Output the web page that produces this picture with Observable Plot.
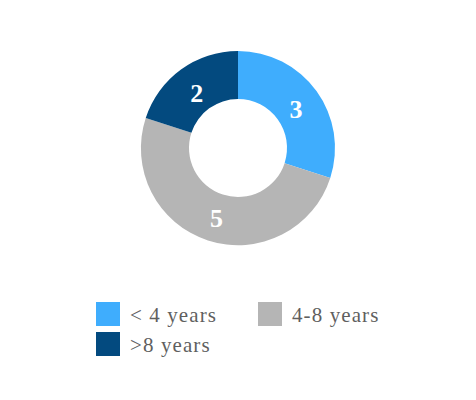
<!DOCTYPE html>
<html><head><meta charset="utf-8">
<style>
body{margin:0;background:#fff;width:476px;height:400px;overflow:hidden;font-family:"Times New Roman",Tinos,"Liberation Serif",serif;}
#chart{height:296px;}
#chart svg{display:block;}
#legend{position:relative;height:104px;}
.item{position:absolute;display:flex;align-items:center;height:24px;}
.sw{width:24px;height:24px;margin-right:10px;flex:none;}
.lab{font-size:21px;color:#5f5f5f;letter-spacing:1.1px;white-space:nowrap;line-height:24px;position:relative;top:1px;}
</style>
<script src="https://cdn.jsdelivr.net/npm/d3@7"></script>
<script src="https://cdn.jsdelivr.net/npm/@observablehq/plot@0.6"></script>
</head><body><div id="chart"></div>
<div id="legend">
  <div class="item" style="left:96px;top:6px"><div class="sw" id="sw0"></div><div class="lab" id="lab0">&lt; 4 years</div></div>
  <div class="item" style="left:258px;top:6px"><div class="sw" id="sw1"></div><div class="lab" id="lab1">4-8 years</div></div>
  <div class="item" style="left:96px;top:36px"><div class="sw" id="sw2"></div><div class="lab" id="lab2">&gt;8 years</div></div>
</div>
<script>
const categories = ["< 4 years", "4-8 years", ">8 years"];
const values = [3, 5, 2];
const colors = ["#3fadfd", "#b5b5b5", "#034a7f"];

const W = 476, H = 296, cx = 238, cy = 148, R = 97, r = 49, rl = 71;
const data = categories.map((c, i) => ({category: c, value: values[i], color: colors[i]}));
const arcs = d3.pie().value(d => d.value).sort(null)(data);
const mid = d => (d.startAngle + d.endAngle) / 2;

const plot = Plot.plot({
  width: W, height: H, margin: 0,
  x: {domain: [-cx, W - cx], axis: null},
  y: {domain: [-(H - cy), cy], axis: null},
  marks: [
    (index, scales) => {
      const x0 = scales.x(0), y0 = scales.y(0);
      const k = scales.x(1) - scales.x(0);
      const arc = d3.arc().innerRadius(r * k).outerRadius(R * k);
      const g = d3.create("svg:g").attr("transform", `translate(${x0},${y0})`);
      g.selectAll("path").data(arcs).join("path")
        .attr("d", arc).attr("fill", d => d.data.color);
      return g.node();
    },
    Plot.text(arcs, {
      x: d => Math.sin(mid(d)) * rl,
      y: d => Math.cos(mid(d)) * rl,
      text: d => String(d.data.value),
      fill: "white", fontSize: 26, fontWeight: "bold", dy: 3,
      fontFamily: "Times New Roman, Tinos, Liberation Serif, serif", textAnchor: "middle", lineAnchor: "middle"
    })
  ]
});
document.getElementById("chart").appendChild(plot);
data.forEach((d, i) => {
  document.getElementById("sw" + i).style.background = d.color;
  document.getElementById("lab" + i).textContent = d.category;
});
</script></body></html>
